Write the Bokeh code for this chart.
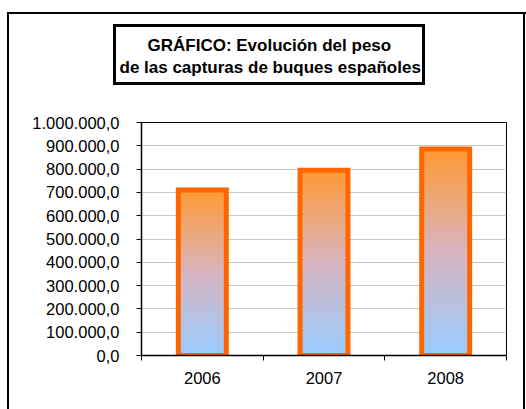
from bokeh.plotting import figure
from bokeh.models import Range1d, FixedTicker, Title
from bokeh.embed import file_html
from bokeh.resources import INLINE

# ---- data ----
years = ["2006", "2007", "2008"]
capturas = [710000, 795000, 886000]
y_ticks = [0, 100000, 200000, 300000, 400000, 500000, 600000, 700000, 800000, 900000, 1000000]
y_tick_labels = ["0,0", "100.000,0", "200.000,0", "300.000,0", "400.000,0", "500.000,0",
                 "600.000,0", "700.000,0", "800.000,0", "900.000,0", "1.000.000,0"]
title_lines = ["GRÁFICO: Evolución del peso", "de las capturas de buques españoles"]

FONT = "Liberation Sans"

# frame lines of the chart area and of the title box (page decoration, CSS)
lines = [  # (x, y, w, h)
    (7, 12, 2, 400), (7, 12, 519, 2), (523, 12, 2, 400),
    (113, 24, 3, 61), (422, 24, 3, 61), (113, 24, 312, 3), (113, 82, 312, 3),
]
css = {
    "background-color": "white",
    "background-image": ", ".join(["linear-gradient(#000, #000)"] * len(lines)),
    "background-position": ", ".join(f"{x}px {y}px" for x, y, w, h in lines),
    "background-size": ", ".join(f"{w}px {h}px" for x, y, w, h in lines),
    "background-repeat": "no-repeat",
}

p = figure(width=526, height=409, output_backend="svg", toolbar_location=None,
           x_range=Range1d(0, len(years)), y_range=Range1d(0, 1000000),
           min_border_left=141, min_border_right=20, min_border_top=122, min_border_bottom=54,
           styles=css)
p.background_fill_color = "white"
p.border_fill_color = None
p.outline_line_color = "black"
p.outline_line_width = 1

# ---- title (two centred lines) ----
def style_title(t):
    t.text_font = FONT
    t.text_font_style = "bold"
    t.text_font_size = "17px"
    t.text_color = "black"
    t.align = "left"
    t.standoff = 0

p.title.text = title_lines[0]
style_title(p.title)
p.title.offset = 6
p.title.padding = dict(left=0, right=0, top=0, bottom=1)
t2 = Title(text=title_lines[1])
style_title(t2)
t2.offset = -22
t2.padding = dict(left=0, right=0, top=0, bottom=46)
p.add_layout(t2, "above")

# ---- gradient bars (nested quads, bottom blue -> top orange) ----
stops = [(0.0, (153, 204, 255)), (0.5, (215, 180, 192)), (1.0, (255, 153, 51))]

def grad(t):
    for (t0, c0), (t1_, c1) in zip(stops[:-1], stops[1:]):
        if t <= t1_:
            f = (t - t0) / (t1_ - t0)
            return "#%02x%02x%02x" % tuple(int(round(a + (b - a) * f)) for a, b in zip(c0, c1))
    return "#%02x%02x%02x" % stops[-1][1]

half = 0.197
N = 80
L, R, T, B, C = [], [], [], [], []
for k in range(N, 0, -1):
    for i, v in enumerate(capturas):
        L.append(i + 0.5 - half)
        R.append(i + 0.5 + half)
        B.append(0)
        T.append(v * k / N)
        C.append(grad((k - 0.5) / N))
p.quad(left=L, right=R, top=T, bottom=B, fill_color=C, line_color=None)

xc = [i + 0.5 for i in range(len(years))]
p.quad(left=[x - half for x in xc], right=[x + half for x in xc], top=capturas,
       bottom=[0] * len(years), fill_color=None, line_color="#FF6600", line_width=5,
       line_join="miter")

# ---- axes ----
p.xgrid.visible = False
p.ygrid.ticker = FixedTicker(ticks=y_ticks)
p.ygrid.grid_line_color = "#C8C8C8"
p.ygrid.grid_line_width = 1

ya = p.yaxis[0]
ya.ticker = FixedTicker(ticks=y_ticks)
ya.major_label_overrides = {t: s for t, s in zip(y_ticks, y_tick_labels)}
ya.major_tick_out = 5
ya.major_tick_in = 0
ya.minor_tick_out = 0
ya.minor_tick_in = 0
ya.axis_line_width = 1.5
ya.axis_line_color = "black"
ya.major_tick_line_color = "black"
ya.major_label_standoff = 17
ya.major_label_text_font = FONT
ya.major_label_text_font_size = "16.5px"
ya.major_label_text_color = "black"

xa = p.xaxis[0]
xa.ticker = FixedTicker(ticks=xc, minor_ticks=list(range(len(years) + 1)))
xa.major_label_overrides = {x: y for x, y in zip(xc, years)}
xa.major_tick_out = 0
xa.major_tick_in = 0
xa.minor_tick_out = 5
xa.minor_tick_in = 0
xa.minor_tick_line_color = "black"
xa.axis_line_width = 1.5
xa.axis_line_color = "black"
xa.major_label_standoff = 11
xa.major_label_text_font = FONT
xa.major_label_text_font_size = "16.5px"
xa.major_label_text_color = "black"

open("out.html", "w").write(file_html(p, INLINE))
